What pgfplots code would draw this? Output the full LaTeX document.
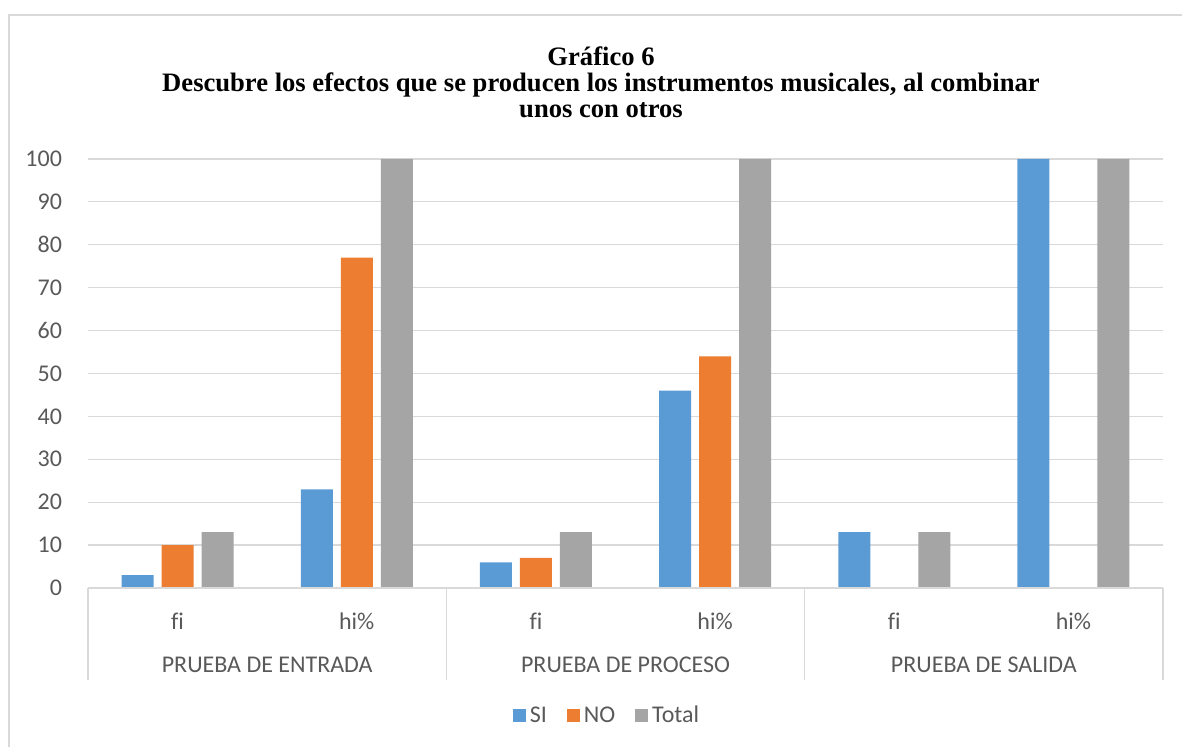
\documentclass[border=0pt]{standalone}
\usepackage{pgfplots}
\pgfplotsset{compat=1.18}
\usepackage{fontspec}
\setmainfont{Carlito}[Ligatures=CommonOff]
\newfontfamily\titlefont{Liberation Serif}
\definecolor{cSI}{HTML}{5B9BD5}
\definecolor{cNO}{HTML}{ED7D31}
\definecolor{cTot}{HTML}{A5A5A5}
\definecolor{cGrid}{HTML}{D9D9D9}
\definecolor{cTxt}{HTML}{595959}
\begin{document}
\begin{tikzpicture}
\path[use as bounding box] (0,0) rectangle (591pt,373.5pt);
\draw[cGrid, line width=0.8pt] (4.5pt,0) -- (4.5pt,366pt) -- (591pt,366pt);
\node[font=\titlefont\bfseries\fontsize{13.3}{15}\selectfont, anchor=base] at (300.5pt,340.5pt) {Gráfico 6};
\node[font=\titlefont\bfseries\fontsize{13.3}{15}\selectfont, anchor=base] at (300.5pt,327.5pt) {Descubre los efectos que se producen los instrumentos musicales, al combinar};
\node[font=\titlefont\bfseries\fontsize{13.3}{15}\selectfont, anchor=base] at (300.5pt,314.5pt) {unos con otros};
\begin{axis}[
  at={(44pt,79.5pt)}, anchor=south west,
  scale only axis, width=537.5pt, height=214.5pt,
  ybar=4pt, bar width=16pt,
  xmin=-0.5, xmax=5.5, ymin=0, ymax=100,
  xtick={0,1,2,3,4,5}, xticklabels={fi,hi\%,fi,hi\%,fi,hi\%},
  ytick={0,10,...,100},
  ymajorgrids, grid style={cGrid, line width=0.6pt},
  axis line style={draw=none},
  major tick length=0pt,
  tick label style={font=\fontsize{12}{14}\selectfont, text=cTxt},
  yticklabel style={xshift=-9.5pt},
  xticklabel style={yshift=-9pt},
  /pgf/number format/assume math mode=true,
  clip=false,
  legend style={at={(axis description cs:0.4837,-0.298)}, anchor=center, draw=none, fill=none,
    legend columns=-1, font=\fontsize{12}{14}\selectfont, text=cTxt,
    /tikz/every even column/.append style={column sep=8pt}},
  legend image code/.code={\fill[#1] (0pt,-3.2pt) rectangle (6.5pt,3.3pt);},
]
\addplot[fill=cSI, draw=none] coordinates {(0,3) (1,23) (2,6) (3,46) (4,13) (5,100)};
\addplot[fill=cNO, draw=none] coordinates {(0,10) (1,77) (2,7) (3,54) (4,0) (5,0)};
\addplot[fill=cTot, draw=none] coordinates {(0,13) (1,100) (2,13) (3,100) (4,13) (5,100)};
\legend{SI,NO,Total}
\draw[cGrid, line width=0.8pt] (axis cs:-0.5,0) -- (axis cs:5.5,0);
\pgfplotsinvokeforeach{-0.5,1.5,3.5,5.5}{
  \draw[cGrid, line width=0.8pt] (axis cs:#1,0) -- ([yshift=-46pt]axis cs:#1,0);
}
\node[font=\fontsize{12}{14}\selectfont, text=cTxt, anchor=base] at ([yshift=-42.5pt]axis cs:0.5,0) {PRUEBA DE ENTRADA};
\node[font=\fontsize{12}{14}\selectfont, text=cTxt, anchor=base] at ([yshift=-42.5pt]axis cs:2.5,0) {PRUEBA DE PROCESO};
\node[font=\fontsize{12}{14}\selectfont, text=cTxt, anchor=base] at ([yshift=-42.5pt]axis cs:4.5,0) {PRUEBA DE SALIDA};
\end{axis}
\end{tikzpicture}
\end{document}
